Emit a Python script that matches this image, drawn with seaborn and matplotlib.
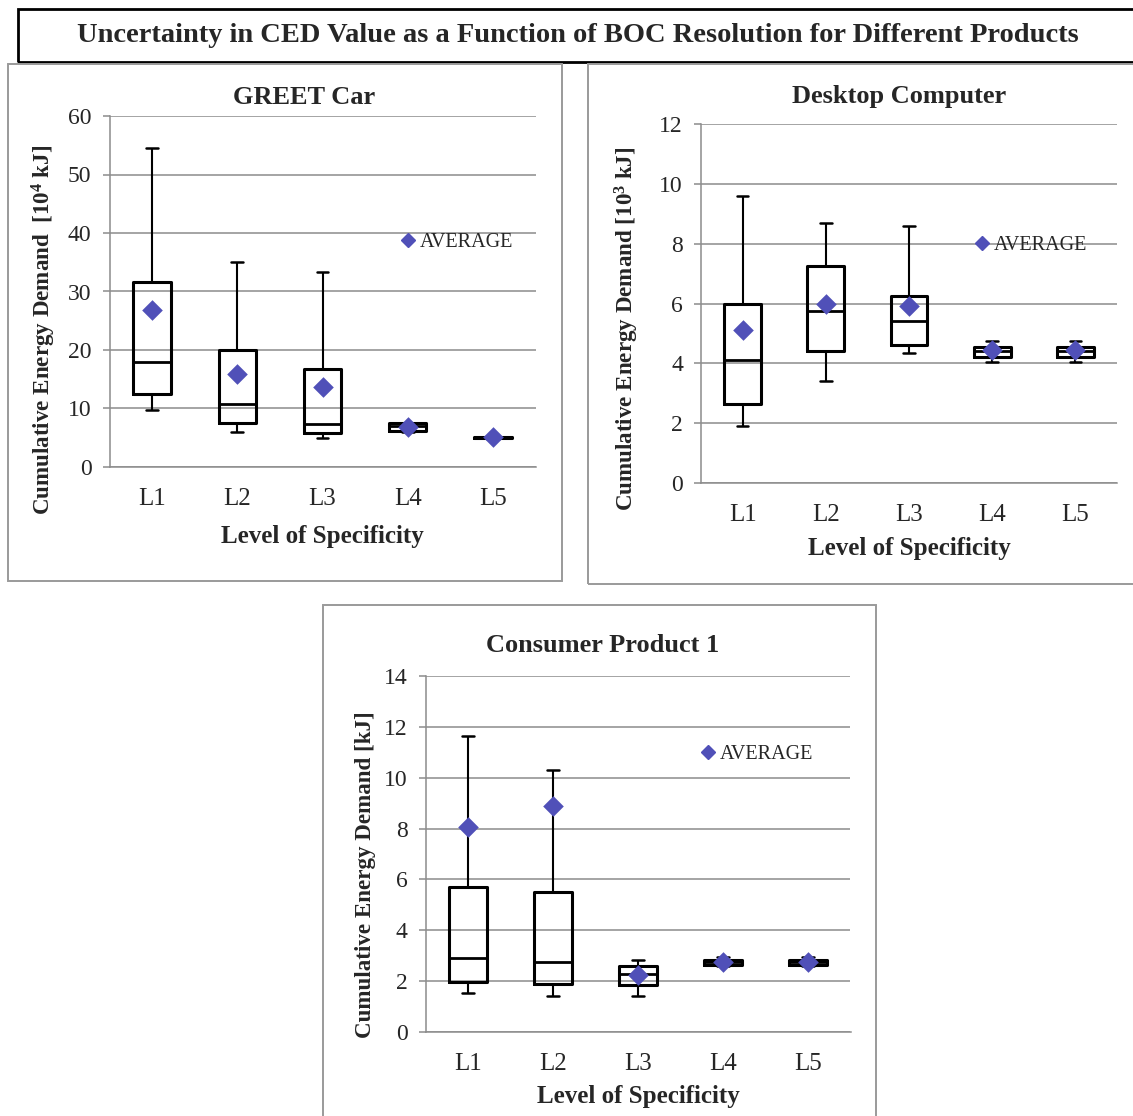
import numpy as np
import pandas as pd
import matplotlib
matplotlib.use("Agg")
import matplotlib.pyplot as plt
from matplotlib.patches import Rectangle
from matplotlib.lines import Line2D
import seaborn as sns

# ---- data -------------------------------------------------------------
levels = ["L1", "L2", "L3", "L4", "L5"]

# five-number summaries: whisker low, Q1, median, Q3, whisker high
car_low = [9.8, 6.0, 5.0, 6.0, 4.8]
car_q1 = [12.5, 7.5, 5.8, 6.2, 4.9]
car_med = [18.0, 10.7, 7.4, 7.0, 5.0]
car_q3 = [31.7, 20.0, 16.7, 7.5, 5.1]
car_high = [54.5, 35.0, 33.4, 7.6, 5.2]
car_mean = [26.8, 15.9, 13.6, 6.9, 5.2]

pc_low = [1.9, 3.4, 4.35, 4.05, 4.05]
pc_q1 = [2.65, 4.4, 4.6, 4.2, 4.2]
pc_med = [4.1, 5.75, 5.4, 4.4, 4.4]
pc_q3 = [6.0, 7.25, 6.25, 4.55, 4.55]
pc_high = [9.6, 8.7, 8.6, 4.75, 4.75]
pc_mean = [5.1, 6.0, 5.9, 4.45, 4.45]

cp_low = [1.55, 1.4, 1.4, 2.6, 2.6]
cp_q1 = [1.95, 1.9, 1.85, 2.65, 2.65]
cp_med = [2.9, 2.75, 2.3, 2.75, 2.75]
cp_q3 = [5.7, 5.5, 2.6, 2.85, 2.85]
cp_high = [11.65, 10.3, 2.85, 2.95, 2.95]
cp_mean = [8.05, 8.9, 2.25, 2.75, 2.75]

main_title = "Uncertainty in CED Value as a Function of BOC Resolution for Different Products"

# ---- style ------------------------------------------------------------
sns.set_style("white")
plt.rcParams["font.family"] = ["Liberation Serif", "DejaVu Serif"]
plt.rcParams["mathtext.fontset"] = "custom"
plt.rcParams["mathtext.rm"] = "Liberation Serif:bold"
plt.rcParams["mathtext.it"] = "Liberation Serif:bold"
plt.rcParams["mathtext.bf"] = "Liberation Serif:bold"

W, H = 1133, 1116
fig = plt.figure(figsize=(W / 100, H / 100), dpi=100)
fig.patch.set_facecolor("white")

GRID = "#8c8c8c"
DIAMOND = "#5050b8"


def px_rect(x0, y0, x1, y1):
    return [x0 / W, 1 - y1 / H, (x1 - x0) / W, (y1 - y0) / H]


def frame(x0, y0, x1, y1, color, lw):
    fig.patches.append(Rectangle((x0 / W, 1 - y1 / H), (x1 - x0) / W, (y1 - y0) / H,
                                 transform=fig.transFigure, fill=False,
                                 edgecolor=color, linewidth=lw, zorder=0))


def long_table(low, q1, med, q3, high):
    rows = []
    for lv, a, b, c, d, e in zip(levels, low, q1, med, q3, high):
        for v in (a, b, c, d, e):
            rows.append({"level": lv, "value": v})
    return pd.DataFrame(rows)


def panel(rect, title, title_xy, ylabel, ylabel_xy, yticks, low, q1, med, q3, high,
          mean, leg_xy, xlabel_pad):
    ax = fig.add_axes(px_rect(*rect))
    df = long_table(low, q1, med, q3, high)
    sns.boxplot(data=df, x="level", y="value", order=levels, ax=ax, fill=False,
                whis=np.inf, width=0.44, color="black", linecolor="black",
                linewidth=2.2, capwidths=0.14,
                whiskerprops={"linewidth": 1.5, "color": "black"},
                capprops={"linewidth": 1.8, "color": "black"},
                medianprops={"linewidth": 2.0, "color": "black"})
    sns.stripplot(x=levels, y=mean, order=levels, ax=ax, jitter=False, marker="D",
                  size=10.5, color=DIAMOND, linewidth=0, zorder=5)
    ax.set_xlim(-0.5, 4.5)
    ax.set_ylim(yticks[0], yticks[-1])
    ax.set_yticks(yticks)
    ax.yaxis.grid(True, color=GRID, linewidth=1.1)
    ax.set_axisbelow(True)
    for s in ("top", "right"):
        ax.spines[s].set_visible(False)
    for s in ("left", "bottom"):
        ax.spines[s].set_color(GRID)
        ax.spines[s].set_linewidth(1.1)
    ax.set_xticks(np.arange(-0.5, 5, 1), minor=True)
    ax.tick_params(axis="x", which="major", length=0, pad=15, labelsize=18)
    ax.tick_params(axis="x", which="minor", length=6, color=GRID, width=1.1, direction="out")
    ax.tick_params(axis="y", which="major", length=5, color=GRID, width=1.1,
                   direction="out", pad=8, labelsize=17, left=True)
    ax.set_xlabel("Level of Specificity", fontsize=18, fontweight="bold",
                  labelpad=xlabel_pad)
    ax.set_ylabel(ylabel, fontsize=16.6, fontweight="bold")
    ax.yaxis.set_label_coords((ylabel_xy[0] - rect[0]) / (rect[2] - rect[0]),
                              (rect[3] - ylabel_xy[1]) / (rect[3] - rect[1]))
    fig.text(title_xy[0] / W, 1 - title_xy[1] / H, title, ha="center", va="center",
             fontsize=19, fontweight="bold")
    handle = Line2D([], [], marker="D", linestyle="none", color=DIAMOND, markersize=7)
    ax.legend(handles=[handle], labels=["AVERAGE"], loc="center left",
              bbox_to_anchor=leg_xy, frameon=False, fontsize=14.5, handlelength=0.8,
              handletextpad=0.2, borderpad=0, borderaxespad=0)
    return ax


# panel frames and title box
frame(18, 9, 1145, 62, "black", 2.0)
frame(8, 64, 562, 581, "#9a9a9a", 1.4)
frame(588, 64, 1145, 584, "#9a9a9a", 1.4)
frame(323, 605, 876, 1125, "#9a9a9a", 1.4)

fig.text(578 / W, 1 - 36 / H, main_title, ha="center", va="center",
         fontsize=20.5, fontweight="bold")

panel((109.5, 116, 535.5, 467), "GREET Car", (304, 98),
      "Cumulative Energy Demand  [10$^{4}$ kJ]", (58, 330), np.arange(0, 61, 10),
      car_low, car_q1, car_med, car_q3, car_high, car_mean, (0.682, 0.639), 11)

panel((701, 124, 1117, 483), "Desktop Computer", (899, 96),
      "Cumulative Energy Demand [10$^{3}$ kJ]", (641, 329), np.arange(0, 13, 2),
      pc_low, pc_q1, pc_med, pc_q3, pc_high, pc_mean, (0.656, 0.661), 8)

panel((425.5, 676, 850.5, 1032), "Consumer Product 1", (603, 645),
      "Cumulative Energy Demand [kJ]", (376, 875), np.arange(0, 15, 2),
      cp_low, cp_q1, cp_med, cp_q3, cp_high, cp_mean, (0.646, 0.779), 7)

fig.savefig("out.png", dpi=100, facecolor="white")
